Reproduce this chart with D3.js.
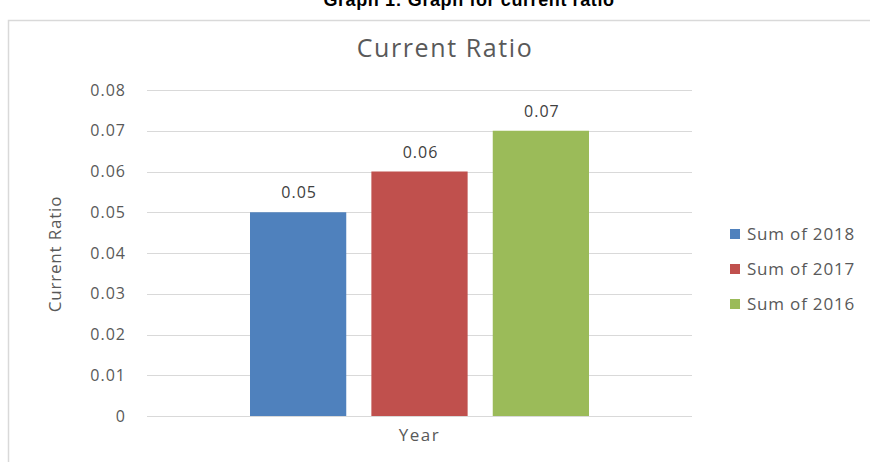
<!DOCTYPE html>
<html>
<head>
<meta charset="utf-8">
<script src="https://cdn.jsdelivr.net/npm/d3@7/dist/d3.min.js"></script>
<style>
	body { margin: 0; background: #fff; }
	svg text { font-family: "Open Sans", "Noto Sans", sans-serif; }
</style>
</head>
<body>
<div id="chart"></div>
<script>
// data
var seriesNames = ["Sum of 2018", "Sum of 2017", "Sum of 2016"];
var seriesValues = [0.05, 0.06, 0.07];
var seriesColors = ["#4F81BD", "#C0504D", "#9BBB59"];
var yTicks = [0, 0.01, 0.02, 0.03, 0.04, 0.05, 0.06, 0.07, 0.08];
var category = ["Year"];

var width = 870, height = 462;
var plot = { left: 147, right: 692, top: 90, bottom: 416 };

var svg = d3.select("#chart")
	.append("svg")
	.attr("width", width)
	.attr("height", height);

// caption, cut off at the top like the scan
svg.append("text")
	.attr("x", 469)
	.attr("y", 6)
	.attr("text-anchor", "middle")
	.style("font-family", "Arial, 'Liberation Sans', sans-serif")
	.style("font-weight", "bold")
	.style("font-size", "18px")
	.style("letter-spacing", "0.6px")
	.attr("fill", "#000")
	.text("Graph 1: Graph for current ratio");

// chart frame
svg.append("rect")
	.attr("x", 8.5)
	.attr("y", 20.5)
	.attr("width", 880)
	.attr("height", 460)
	.attr("fill", "none")
	.attr("stroke", "#d9d9d9")
	.attr("stroke-width", 1.5);

var y = d3.scaleLinear()
	.domain([0, 0.08])
	.range([plot.bottom, plot.top]);

var x0 = d3.scaleBand()
	.domain(category)
	.range([plot.left, plot.right]);

var x1 = d3.scaleBand()
	.domain(seriesNames)
	.range([x0("Year") + 103, x0("Year") + x0.bandwidth() - 103])
	.paddingInner(0.207);

// gridlines
svg.append("g")
	.selectAll("line")
	.data(yTicks)
	.enter()
		.append("line")
		.attr("x1", plot.left)
		.attr("x2", plot.right)
		.attr("y1", function(d) { return Math.round(y(d)) + 0.5; })
		.attr("y2", function(d) { return Math.round(y(d)) + 0.5; })
		.attr("stroke", "#d9d9d9")
		.attr("stroke-width", 1);

// y axis labels
var yAxis = d3.axisLeft(y)
	.tickValues(yTicks)
	.tickSize(0)
	.tickPadding(0)
	.tickFormat(function(d) { return d === 0 ? "0" : d3.format(".2f")(d); });

var yg = svg.append("g")
	.attr("transform", "translate(126,0)")
	.call(yAxis);
yg.select(".domain").remove();
yg.selectAll("text")
	.style("font-size", "16px")
	.style("letter-spacing", "1px")
	.attr("fill", "#595959");

// bars
svg.append("g")
	.selectAll("rect")
	.data(seriesValues)
	.enter()
		.append("rect")
		.attr("x", function(d, i) { return x1(seriesNames[i]); })
		.attr("y", function(d) { return y(d); })
		.attr("width", x1.bandwidth())
		.attr("height", function(d) { return y(0) - y(d); })
		.attr("fill", function(d, i) { return seriesColors[i]; });

// value labels
svg.append("g")
	.selectAll("text")
	.data(seriesValues)
	.enter()
		.append("text")
		.attr("x", function(d, i) { return x1(seriesNames[i]) + x1.bandwidth() / 2 + 1; })
		.attr("y", function(d) { return y(d) - 14; })
		.attr("text-anchor", "middle")
		.style("font-size", "16px")
		.style("letter-spacing", "1px")
		.attr("fill", "#404040")
		.text(function(d) { return d3.format(".2f")(d); });

// titles
svg.append("text")
	.attr("x", 445)
	.attr("y", 57)
	.attr("text-anchor", "middle")
	.style("font-size", "25px")
	.style("letter-spacing", "1.6px")
	.attr("fill", "#595959")
	.text("Current Ratio");

svg.append("text")
	.attr("transform", "translate(61,254) rotate(-90)")
	.attr("text-anchor", "middle")
	.style("font-size", "17px")
	.style("letter-spacing", "0.8px")
	.attr("fill", "#595959")
	.text("Current Ratio");

svg.append("text")
	.attr("x", (plot.left + plot.right) / 2)
	.attr("y", 441)
	.attr("text-anchor", "middle")
	.style("font-size", "17px")
	.style("letter-spacing", "1.5px")
	.attr("fill", "#595959")
	.text(category[0]);

// legend
var legend = svg.append("g")
	.selectAll("g")
	.data(seriesNames)
	.enter()
		.append("g")
		.attr("transform", function(d, i) { return "translate(730," + (229 + i * 35) + ")"; });

legend.append("rect")
	.attr("width", 10)
	.attr("height", 10)
	.attr("fill", function(d, i) { return seriesColors[i]; });

legend.append("text")
	.attr("x", 17)
	.attr("y", 11)
	.style("font-size", "17px")
	.style("letter-spacing", "0.8px")
	.attr("fill", "#595959")
	.text(function(d) { return d; });
</script>
</body>
</html>
